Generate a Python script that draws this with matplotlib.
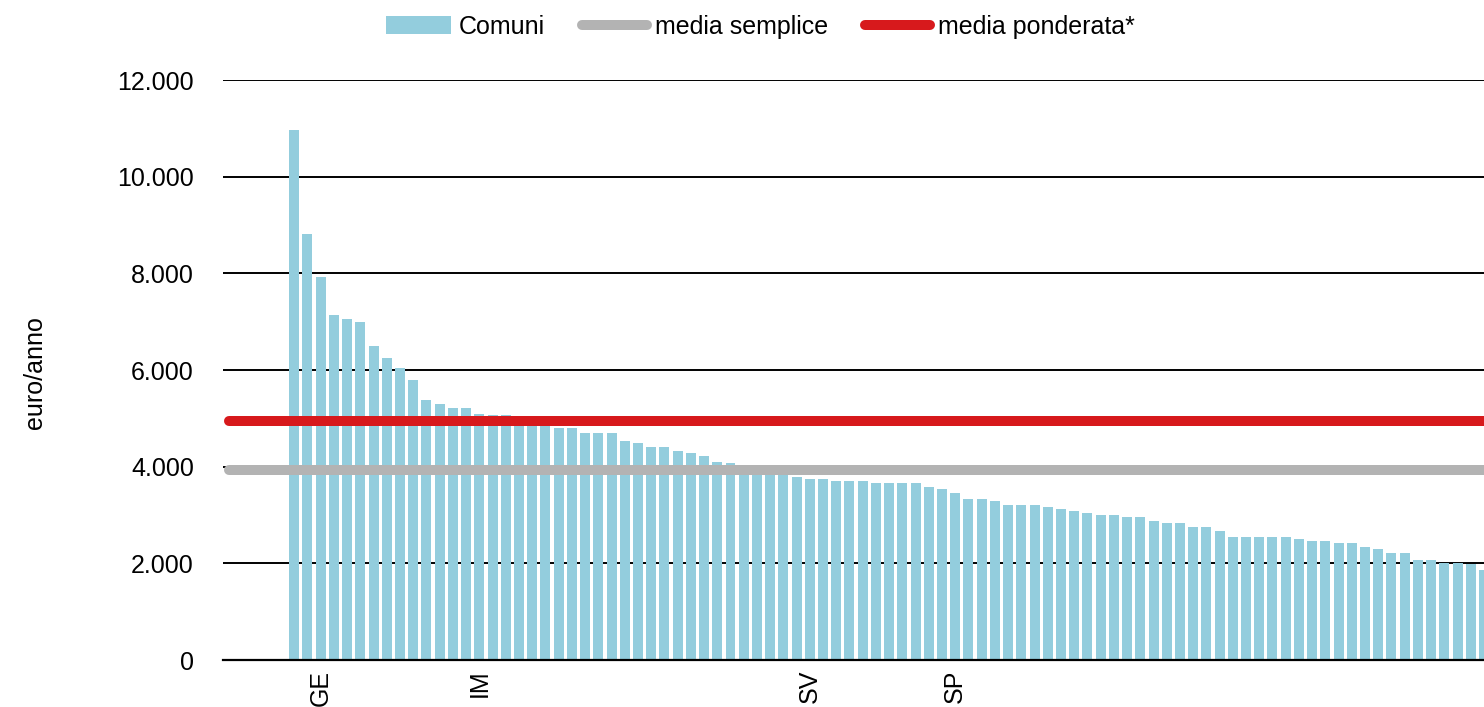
import matplotlib
matplotlib.use("Agg")
import matplotlib.pyplot as plt
from matplotlib.patches import Patch
from matplotlib.lines import Line2D
from matplotlib.ticker import FuncFormatter, FixedLocator

plt.rcParams['font.family'] = ['Liberation Sans', 'DejaVu Sans']

# ---- data ----
values = [10960, 8820, 7925, 7145, 7062, 6987, 6490, 6242, 6035, 5793,
          5380, 5297, 5214, 5214, 5090, 5069, 5069, 5050, 4960, 4900,
          4807, 4807, 4690, 4690, 4690, 4525, 4483, 4400, 4400, 4318,
          4276, 4230, 4105, 4070, 3980, 3930, 3840, 3830, 3780, 3738,
          3738, 3697, 3697, 3697, 3656, 3656, 3656, 3656, 3573, 3532,
          3449, 3325, 3325, 3283, 3200, 3200, 3200, 3159, 3118, 3076,
          3040, 3000, 3000, 2959, 2959, 2876, 2835, 2835, 2752, 2752,
          2669, 2551, 2551, 2551, 2551, 2551, 2510, 2469, 2469, 2427,
          2427, 2344, 2303, 2220, 2220, 2063, 2063, 2013, 2013, 1990,
          1862]
categories = [''] * len(values)
labelled_idx = [2, 14, 39, 50]
labelled_txt = ['GE', 'IM', 'SV', 'SP']
for i, t in zip(labelled_idx, labelled_txt):
    categories[i] = t

media_semplice = 3925
media_ponderata = 4950

y_ticks = [0, 2000, 4000, 6000, 8000, 10000, 12000]

bar_color = '#93CDDD'
gray_color = '#B3B3B3'
red_color = '#D7191C'
FS = 18

W, H = 1484, 707
fig = plt.figure(figsize=(W / 100, H / 100), dpi=100)
ax = fig.add_axes([223 / W, 1 - 660 / H, 1 - 223 / W, (660 - 80) / H])

xs = list(range(len(values)))
ax.bar(xs, values, width=0.755, color=bar_color, zorder=2, linewidth=0)

xleft, xright = -5.39, 89.86
ax.set_xlim(xleft, xright)
ax.set_ylim(y_ticks[0], y_ticks[-1])

x0 = xleft + 6.5 / 13.24
ax.plot([x0, xright + 2], [media_semplice] * 2, color=gray_color, lw=7.2,
        solid_capstyle='round', zorder=3)
ax.plot([x0, xright + 2], [media_ponderata] * 2, color=red_color, lw=7.2,
        solid_capstyle='round', zorder=4)

ax.yaxis.set_major_locator(FixedLocator(y_ticks))
ax.yaxis.set_major_formatter(FuncFormatter(lambda v, p: f"{int(v):,}".replace(',', '.')))
ax.yaxis.grid(True, color='black', lw=1.4)
ax.set_axisbelow(True)
ax.tick_params(axis='y', length=0, pad=21, labelsize=FS)

ax.set_xticks(xs)
ax.set_xticklabels(categories, rotation=90, fontsize=FS)
ax.tick_params(axis='x', length=0, pad=7)

for s in ['top', 'right', 'left']:
    ax.spines[s].set_visible(False)
ax.spines['bottom'].set_color('black')
ax.spines['bottom'].set_linewidth(1.6)
ax.spines['bottom'].set_zorder(5)

fig.text(35 / W, 1 - 373 / H, 'euro/anno', rotation=90, ha='center', va='center', fontsize=FS)

handles = [
    Patch(facecolor=bar_color, edgecolor='none'),
    Line2D([0], [0], color=gray_color, lw=7.2, solid_capstyle='round'),
    Line2D([0], [0], color=red_color, lw=7.2, solid_capstyle='round'),
]
fig.legend(handles, ['Comuni', 'media semplice', 'media ponderata*'],
           loc='center', bbox_to_anchor=(760.5 / W, 1 - 27 / H), ncol=3, frameon=False,
           fontsize=FS, handlelength=2.6, handleheight=0.75, handletextpad=0.3,
           columnspacing=1.5, borderpad=0)

fig.savefig('out.png', dpi=100)
